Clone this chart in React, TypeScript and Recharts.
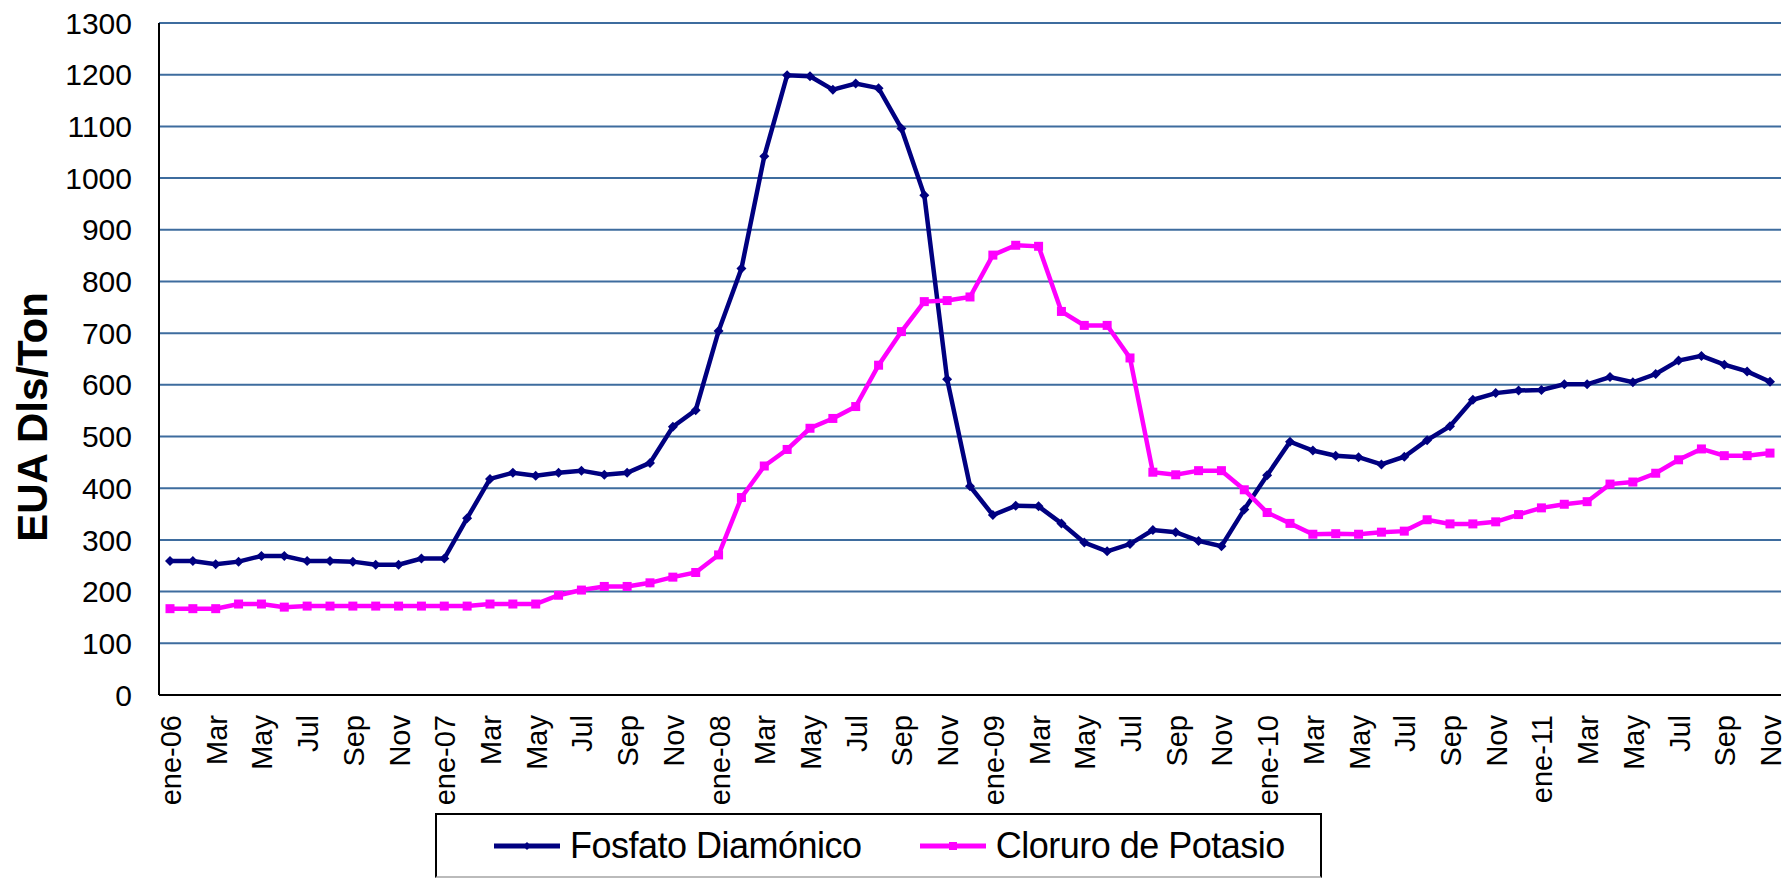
import React from "react";
import { LineChart, Line, XAxis, YAxis, CartesianGrid, Legend, Label } from "recharts";

const FONT = "'Liberation Sans', Arial, sans-serif";

const meses = ["ene", "Feb", "Mar", "Abr", "May", "Jun", "Jul", "Ago", "Sep", "Oct", "Nov", "Dic"];
const anios = ["06", "07", "08", "09", "10", "11"];
// ene-06 .. Nov-11
const categorias = anios
  .flatMap((a) => meses.map((m, i) => (i === 0 ? `ene-${a}` : m)))
  .slice(0, 71);

const fosfato = [
  259, 259, 253, 258, 269, 269, 259, 259, 258, 252, 252, 264,
  264, 342, 418, 430, 424, 430, 434, 426, 430, 449, 519, 551,
  704, 825, 1042, 1199, 1197, 1171, 1183, 1174, 1096, 967, 611, 404,
  348, 366, 365, 332, 295, 278, 292, 319, 315, 298, 288, 359,
  425, 490, 473, 463, 460, 446, 461, 493, 520, 571, 584, 589,
  590, 601, 601, 615, 605, 621, 647, 656, 639, 626, 606,
];

const cloruro = [
  167, 167, 167, 176, 176, 170, 172, 172, 172, 172, 172, 172,
  172, 172, 176, 176, 176, 193, 203, 210, 210, 217, 228, 237,
  271, 382, 443, 475, 516, 535, 558, 638, 703, 761, 763, 770,
  851, 870, 868, 742, 715, 715, 652, 431, 426, 434, 434, 397,
  353, 332, 311, 312, 311, 315, 317, 339, 331, 331, 335, 349,
  362, 369, 374, 408, 412, 429, 455, 476, 463, 463, 468,
];

const yTicks = [0, 100, 200, 300, 400, 500, 600, 700, 800, 900, 1000, 1100, 1200, 1300];

const data = categorias.map((mes, i) => ({
  mes,
  fosfato: fosfato[i],
  cloruro: cloruro[i],
}));

const AZUL = "#000080";
const ROSA = "#FF00FF";
const ordenSeries = ["fosfato", "cloruro"];

function XTick({ x, y, payload }: any) {
  return (
    <text
      x={x + 1}
      y={y}
      transform={`rotate(-90 ${x + 1} ${y})`}
      textAnchor="end"
      dominantBaseline="central"
      fontSize={29}
      fontFamily={FONT}
      fill="#000"
    >
      {payload.value}
    </text>
  );
}

function Rombo({ cx, cy, index }: any) {
  if (cx == null || cy == null) return null;
  const r = 5;
  return (
    <polygon
      key={`r-${index}`}
      points={`${cx},${cy - r} ${cx + r},${cy} ${cx},${cy + r} ${cx - r},${cy}`}
      fill={AZUL}
    />
  );
}

function Cuadro({ cx, cy, index }: any) {
  if (cx == null || cy == null) return null;
  const s = 9;
  return <rect key={`c-${index}`} x={cx - s / 2} y={cy - s / 2} width={s} height={s} fill={ROSA} />;
}

function Leyenda({ payload }: any) {
  const items = [...(payload || [])].sort(
    (a: any, b: any) => ordenSeries.indexOf(a.dataKey) - ordenSeries.indexOf(b.dataKey)
  );
  return (
    <div
      style={{
        boxSizing: "border-box",
        width: 887,
        height: 65,
        borderTop: "2px solid #000",
        borderLeft: "2px solid #000",
        borderRight: "2px solid #000",
        borderBottom: "2px solid #bbb",
        background: "#fff",
        display: "flex",
        alignItems: "center",
        paddingLeft: 57,
        fontFamily: FONT,
      }}
    >
      {items.map((p: any, i: number) => (
        <div key={p.value} style={{ display: "flex", alignItems: "center", marginRight: i === 0 ? 58 : 0 }}>
          <svg width={66} height={14} style={{ marginRight: 10 }}>
            <line x1={0} y1={7} x2={66} y2={7} stroke={p.color} strokeWidth={5} strokeLinecap="round" />
            {p.dataKey === "fosfato" ? (
              <polygon points="33,3 37,7 33,11 29,7" fill={p.color} />
            ) : (
              <rect x={29} y={3} width={8} height={8} fill={p.color} />
            )}
          </svg>
          <span style={{ fontSize: 36, letterSpacing: "-0.5px", lineHeight: 1, color: "#000", whiteSpace: "nowrap" }}>
            {p.value}
          </span>
        </div>
      ))}
    </div>
  );
}

export default function App() {
  return (
    <div style={{ position: "absolute", left: 0, top: 0, width: 1787, height: 878, background: "#fff" }}>
      <LineChart
        width={1787}
        height={878}
        data={data}
        margin={{ top: 23, right: 6, bottom: 0, left: 0 }}
      >
        <CartesianGrid vertical={false} stroke="#3E6C9E" strokeWidth={2} />
        <XAxis
          dataKey="mes"
          interval={1}
          height={183}
          tick={<XTick />}
          tickLine={false}
          tickSize={0}
          tickMargin={20}
          axisLine={{ stroke: "#000", strokeWidth: 2 }}
          padding={{ left: 11, right: 11 }}
        />
        <YAxis
          domain={[0, 1300]}
          ticks={yTicks}
          width={159}
          interval={0}
          tick={{ fontSize: 30, fill: "#000", fontFamily: FONT }}
          tickLine={false}
          tickSize={0}
          tickMargin={27}
          axisLine={{ stroke: "#000", strokeWidth: 2 }}
        >
          <Label
            content={() => (
              <text
                x={32}
                y={417}
                transform="rotate(-90 32 417)"
                textAnchor="middle"
                dominantBaseline="central"
                fontSize={42}
                fontWeight="bold"
                fontFamily={FONT}
                fill="#000"
              >
                EUA Dls/Ton
              </text>
            )}
          />
        </YAxis>
        <Legend
          layout="horizontal"
          verticalAlign="middle"
          align="center"
          content={<Leyenda />}
          wrapperStyle={{ position: "absolute", left: 435, top: 813, width: 887, height: 65 }}
        />
        <Line
          type="linear"
          dataKey="fosfato"
          name="Fosfato Diamónico"
          stroke={AZUL}
          strokeWidth={4.5}
          dot={<Rombo />}
          activeDot={false}
          isAnimationActive={false}
        />
        <Line
          type="linear"
          dataKey="cloruro"
          name="Cloruro de Potasio"
          stroke={ROSA}
          strokeWidth={4.5}
          dot={<Cuadro />}
          activeDot={false}
          isAnimationActive={false}
        />
      </LineChart>
    </div>
  );
}
